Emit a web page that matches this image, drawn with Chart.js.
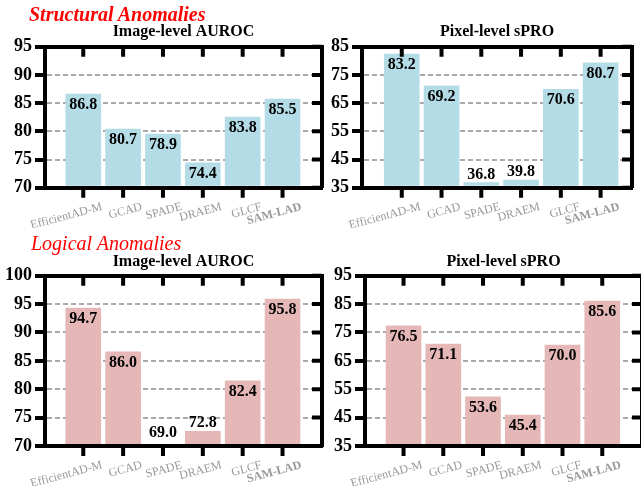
<!DOCTYPE html>
<html>
<head>
<meta charset="utf-8">
<script src="https://cdn.jsdelivr.net/npm/chart.js@4"></script>
<style>
  body { margin: 0; width: 641px; height: 486px; overflow: hidden; background: #fff; position: relative; }
  .panel { position: absolute; }
  .head { position: absolute; color: #ff0000; font-family: 'Liberation Serif', 'Times New Roman', serif;
          font-size: 20px; line-height: 24px; font-style: italic; white-space: nowrap; z-index: 2; }
</style>
</head>
<body>
<div class="head" style="left:29px; top:2px; font-weight:bold;">Structural Anomalies</div>
<div class="head" style="left:31px; top:231px;">Logical Anomalies</div>

<div class="panel" style="left:0; top:0;"><canvas id="structImage" width="330" height="230"></canvas></div>
<div class="panel" style="left:330px; top:0;"><canvas id="structPixel" width="311" height="230"></canvas></div>
<div class="panel" style="left:0; top:230px;"><canvas id="logicImage" width="330" height="256"></canvas></div>
<div class="panel" style="left:330px; top:230px;"><canvas id="logicPixel" width="320" height="256"></canvas></div>

<script>
const methods = ['EfficientAD-M', 'GCAD', 'SPADE', 'DRAEM', 'GLCF', 'SAM-LAD'];

// scores printed on the bars
const structImageScores = [86.8, 80.7, 78.9, 74.4, 83.8, 85.5];
const structPixelScores = [83.2, 69.2, 36.8, 39.8, 70.6, 80.7];
const logicImageScores = [94.7, 86.0, 69.0, 72.8, 82.4, 95.8];
const logicPixelScores = [76.5, 71.1, 53.6, 45.4, 70.0, 85.6];

// bar heights as drawn (they don't always agree with the printed score)
const structImageBars = [86.6, 80.4, 79.5, 74.4, 82.5, 85.7];
const structPixelBars = [82.4, 71.1, 36.8, 37.7, 69.9, 79.3];
const logicImageBars = [94.3, 86.6, 69.0, 72.6, 81.5, 95.9];
const logicPixelBars = [77.3, 70.9, 52.3, 45.9, 70.6, 86.1];

const structImageTicks = [70, 75, 80, 85, 90, 95];
const structPixelTicks = [35, 45, 55, 65, 75, 85];
const logicImageTicks = [70, 75, 80, 85, 90, 95, 100];
const logicPixelTicks = [35, 45, 55, 65, 75, 85, 95];

const SERIF = "'Liberation Serif', 'Times New Roman', serif";
const BLUE = '#b3dce6';
const PINK = '#e5b8b7';

const scoreLabels = {
	id: 'scoreLabels',
	afterDatasetsDraw(chart, args, opts) {
		const ctx = chart.ctx;
		const area = chart.chartArea;
		const meta = chart.getDatasetMeta(0);
		ctx.save();
		ctx.font = 'bold 16px ' + SERIF;
		ctx.fillStyle = '#000';
		ctx.textAlign = 'center';
		ctx.textBaseline = 'middle';
		meta.data.forEach((bar, i) => {
			const top = Math.min(bar.y, area.bottom);
			let y;
			if (area.bottom - top > 20) {
				y = top + 11;
			} else {
				y = Math.min(top, area.bottom - 5) - 8;
			}
			ctx.fillText(opts.scores[i].toFixed(1), bar.x, y);
		});
		ctx.restore();
	}
};

// tick marks on the frame: into the plot at top and right, out of it at the bottom
const frameTicks = {
	id: 'frameTicks',
	afterDraw(chart) {
		const { ctx, chartArea: a, scales } = chart;
		ctx.save();
		ctx.strokeStyle = '#000';
		ctx.lineWidth = 4;
		ctx.beginPath();
		scales.x.ticks.forEach(t => {
			const px = scales.x.getPixelForValue(t.value);
			ctx.moveTo(px, a.top);
			ctx.lineTo(px, a.top + 10);
			ctx.moveTo(px, a.bottom);
			ctx.lineTo(px, a.bottom + 10);
		});
		scales.y.ticks.forEach(t => {
			const py = scales.y.getPixelForValue(t.value);
			ctx.moveTo(a.right - 10, py);
			ctx.lineTo(a.right, py);
		});
		ctx.stroke();
		ctx.restore();
	}
};

function categoryTicks(scale) {
	scale.ticks = methods.map((m, i) => ({ value: i }));
}

function makeChart(id, cfg) {
	const yMin = cfg.ticks[0];
	const yMax = cfg.ticks[cfg.ticks.length - 1];
	const labelShift = 0.47;
	const valueTicks = s => { s.ticks = cfg.ticks.map(v => ({ value: v })); };

	return new Chart(document.getElementById(id), {
		type: 'bar',
		data: {
			datasets: [{
				data: cfg.bars.map((v, i) => ({ x: i, y: v })),
				backgroundColor: cfg.color,
				barThickness: 35,
				clip: { left: 0, top: 0, right: 0, bottom: -2 }
			}]
		},
		options: {
			responsive: false,
			animation: false,
			layout: { padding: cfg.padding },
			plugins: {
				legend: { display: false },
				tooltip: { enabled: false },
				title: {
					display: true,
					text: cfg.title,
					color: '#000',
					fullSize: false,
					font: { family: SERIF, size: 16, weight: 'bold' },
					padding: cfg.titlePadding
				},
				scoreLabels: { scores: cfg.scores }
			},
			scales: {
				x: {
					type: 'linear',
					position: 'bottom',
					offset: false,
					min: cfg.xMin,
					max: cfg.xMax,
					afterBuildTicks: categoryTicks,
					afterFit: s => { s.height = 10; },
					ticks: { display: false },
					grid: { offset: false, drawOnChartArea: false, drawTicks: false },
					border: { width: 4, color: '#000' }
				},
				xl: {
					type: 'linear',
					position: 'bottom',
					offset: false,
					min: cfg.xMin - labelShift,
					max: cfg.xMax - labelShift,
					afterBuildTicks: categoryTicks,
					afterFit: s => { s.height = 30; },
					grid: { offset: false, display: false, drawTicks: false },
					border: { display: false },
					ticks: {
						callback: (v, i) => methods[i],
						autoSkip: false,
						minRotation: 15,
						maxRotation: 15,
						padding: 2,
						color: '#999',
						font: c => ({ family: SERIF, size: 12, weight: c.index === 5 ? 'bold' : 'normal' })
					}
				},
				// top frame
				xt: {
					type: 'linear',
					axis: 'x',
					position: { y: yMax },
					offset: false,
					min: cfg.xMin,
					max: cfg.xMax,
					afterBuildTicks: categoryTicks,
					ticks: { display: false },
					grid: { offset: false, drawOnChartArea: false, drawTicks: false },
					border: { width: 4, color: '#000' }
				},
				y: {
					position: 'left',
					min: yMin,
					max: yMax,
					afterBuildTicks: valueTicks,
					afterFit: s => { s.width = cfg.yWidth; },
					ticks: { color: '#000', padding: 3, font: { family: SERIF, size: 18, weight: 'bold' } },
					grid: {
						color: c => (c.tick && (c.tick.value === yMin || c.tick.value === yMax)) ? 'rgba(0,0,0,0)' : '#aaaaaa',
						lineWidth: 2,
						tickLength: 10,
						tickWidth: 4,
						tickColor: '#000'
					},
					border: { width: 4, color: '#000', dash: [5, 3] }
				},
				// right frame
				yr: {
					type: 'linear',
					axis: 'y',
					position: { x: cfg.xMax },
					min: yMin,
					max: yMax,
					afterBuildTicks: valueTicks,
					ticks: { display: false },
					grid: { drawOnChartArea: false, drawTicks: false },
					border: { width: 4, color: '#000' }
				}
			}
		},
		plugins: [scoreLabels, frameTicks]
	});
}

makeChart('structImage', {
	title: 'Image-level AUROC',
	bars: structImageBars, scores: structImageScores, ticks: structImageTicks, color: BLUE,
	xMin: -0.96, xMax: 5.99, yWidth: 45,
	padding: { left: 0, right: 8, top: 0, bottom: 2.3 },
	titlePadding: { top: 22, bottom: 5.5 }
});

makeChart('structPixel', {
	title: 'Pixel-level sPRO',
	bars: structPixelBars, scores: structPixelScores, ticks: structPixelTicks, color: BLUE,
	xMin: -1.0, xMax: 5.79, yWidth: 32,
	padding: { left: 0, right: 9, top: 0, bottom: 2.3 },
	titlePadding: { top: 22, bottom: 5.5 }
});

makeChart('logicImage', {
	title: 'Image-level AUROC',
	bars: logicImageBars, scores: logicImageScores, ticks: logicImageTicks, color: PINK,
	xMin: -0.96, xMax: 5.99, yWidth: 45,
	padding: { left: 0, right: 8, top: 0, bottom: 0 },
	titlePadding: { top: 22, bottom: 4.5 }
});

makeChart('logicPixel', {
	title: 'Pixel-level sPRO',
	bars: logicPixelBars, scores: logicPixelScores, ticks: logicPixelTicks, color: PINK,
	xMin: -0.97, xMax: 6.0, yWidth: 35,
	padding: { left: 0, right: 8, top: 0, bottom: 0 },
	titlePadding: { top: 22, bottom: 4.5 }
});
</script>
</body>
</html>
